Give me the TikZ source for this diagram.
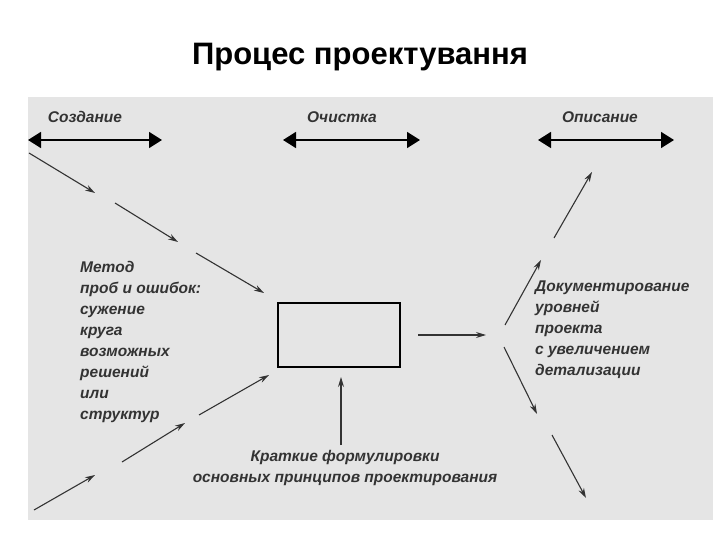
\documentclass[tikz,border=0pt]{standalone}
\usepackage{fontspec}
\setmainfont{Liberation Sans}
\usetikzlibrary{arrows.meta}
\begin{document}
\begin{tikzpicture}[x=1pt,y=-1pt,
  lbl/.style={font=\bfseries\itshape\fontsize{15.5}{21}\selectfont, text=black!80, inner sep=0pt},
  big/.style={line width=1.6pt,{Triangle[length=13pt,width=16pt]}-{Triangle[length=13pt,width=16pt]}},
  thin/.style={line width=1.1pt,black!80,-{Stealth[length=10pt,width=6pt]}}]
\useasboundingbox (0,0) rectangle (720,540);
\fill[black!10] (28,97) rectangle (713,520);
\node[font=\bfseries\fontsize{31}{33}\selectfont] (title) at (360,57) {Процес проектування};
% top labels & double arrows
\node[lbl] (l1) at (85,117) {Создание};
\node[lbl] (l2) at (342,117) {Очистка};
\node[lbl] (l3) at (600,117) {Описание};
\coordinate (a1) at (28,140); \coordinate (b1) at (162,140);
\coordinate (a2) at (283,140); \coordinate (b2) at (420,140);
\coordinate (a3) at (538,140); \coordinate (b3) at (674,140);
\draw[big] (a1) -- (b1);
\draw[big] (a2) -- (b2);
\draw[big] (a3) -- (b3);
% box
\node[draw, line width=2.2pt, minimum width=122pt, minimum height=64pt, inner sep=0pt] (box) at (339,335) {};
% top-left chain
\coordinate (p1) at (29,153); \coordinate (p2) at (95,193);
\coordinate (p3) at (115,203); \coordinate (p4) at (178,242);
\coordinate (p5) at (196,253); \coordinate (p6) at (264,293);
\draw[thin] (p1) -- (p2); \draw[thin] (p3) -- (p4); \draw[thin] (p5) -- (p6);
% bottom-left chain
\coordinate (q1) at (34,510); \coordinate (q2) at (95,475);
\coordinate (q3) at (122,462); \coordinate (q4) at (185,423);
\coordinate (q5) at (199,415); \coordinate (q6) at (269,375);
\draw[thin] (q1) -- (q2); \draw[thin] (q3) -- (q4); \draw[thin] (q5) -- (q6);
% bottom up
\coordinate (u1) at (341,445); \coordinate (u2) at (341,377);
\draw[thin] (u1) -- (u2);
% right
\coordinate (r1) at (418,335); \coordinate (r2) at (486,335);
\draw[thin] (r1) -- (r2);
\coordinate (s1) at (505,325); \coordinate (s2) at (541,260);
\coordinate (s3) at (554,238); \coordinate (s4) at (592,172);
\draw[thin] (s1) -- (s2); \draw[thin] (s3) -- (s4);
\coordinate (t1) at (504,347); \coordinate (t2) at (537,414);
\coordinate (t3) at (552,435); \coordinate (t4) at (586,498);
\draw[thin] (t1) -- (t2); \draw[thin] (t3) -- (t4);
% texts
\node[lbl, anchor=north west, align=left] (left) at (80,261) {Метод\\проб и ошибок:\\сужение\\круга\\возможных\\решений\\или\\структур};
\node[lbl, anchor=north west, align=left] (right) at (535,281) {Документирование\\уровней\\проекта\\с увеличением\\детализации};
\node[lbl, align=center] (bot) at (345,468) {Краткие формулировки\\основных принципов проектирования};
\end{tikzpicture}
\end{document}
